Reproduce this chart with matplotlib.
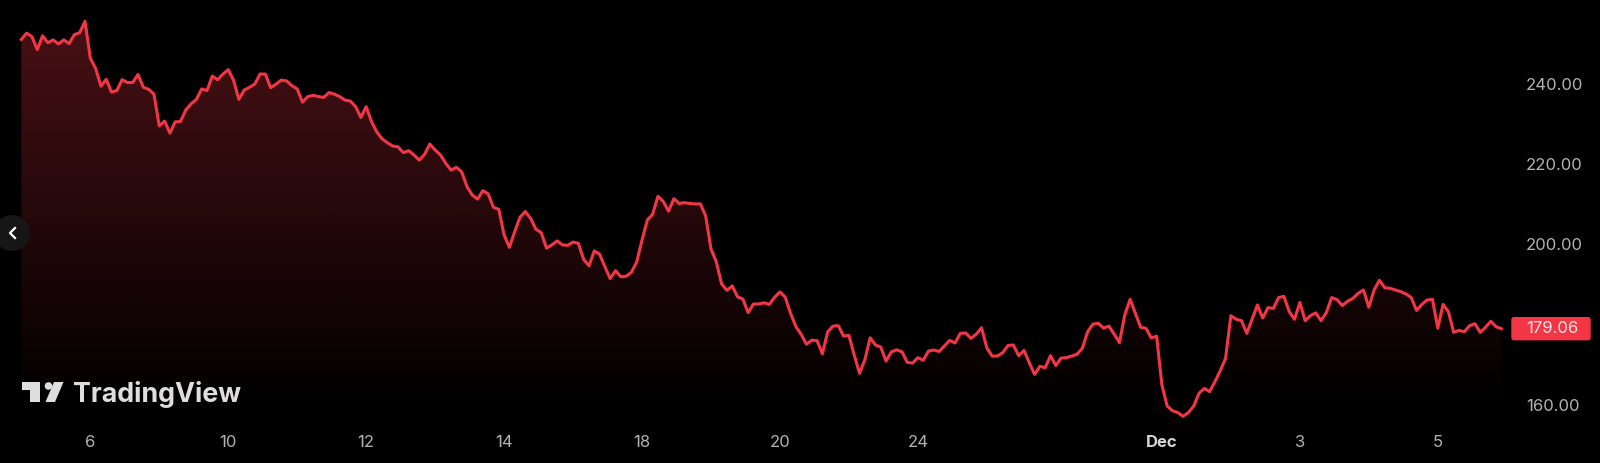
import numpy as np
import matplotlib.pyplot as plt
from matplotlib.patches import Circle, FancyBboxPatch, Polygon
from matplotlib.transforms import IdentityTransform

prices = [
    251.0, 252.6, 251.7, 248.5, 251.9, 250.2, 250.9, 249.9, 250.9, 250.0, 252.2, 252.7,
    255.5, 246.4, 243.8, 239.4, 241.1, 237.9, 238.3, 241.0, 240.3, 240.3, 242.3, 239.1,
    238.6, 237.4, 229.5, 230.7, 227.7, 230.5, 230.6, 233.5, 235.0, 236.1, 238.7, 238.3,
    241.9, 241.0, 242.4, 243.5, 240.9, 236.1, 238.4, 239.1, 239.9, 242.4, 242.4, 239.0,
    239.9, 240.9, 240.7, 239.5, 238.7, 235.4, 236.8, 237.1, 236.8, 236.6, 237.8, 237.4,
    236.8, 235.9, 235.7, 234.3, 231.6, 234.3, 230.6, 228.0, 226.3, 225.3, 224.5, 224.3,
    222.85, 223.35, 222.3, 221.0, 222.4, 225.0, 223.5, 222.3, 220.2, 218.5, 219.2, 218.1,
    214.4, 212.3, 211.3, 213.4, 212.6, 209.25, 208.75, 202.4, 199.3, 203.2, 206.8, 208.2,
    206.5, 203.8, 202.95, 199.1, 199.9, 200.9, 199.9, 199.8, 200.6, 200.3, 196.3, 194.7,
    198.4, 197.6, 194.5, 191.5, 193.5, 192.0, 192.1, 193.1, 195.7, 201.1, 206.1, 207.5,
    212.0, 210.7, 208.3, 211.4, 210.2, 210.4, 210.2, 210.1, 210.1, 207.1, 198.9, 195.7,
    190.2, 188.6, 189.7, 187.0, 186.45, 183.05, 185.2, 185.2, 185.5, 185.1, 186.9, 188.2,
    186.9, 182.9, 179.6,
    177.65, 175.2, 176.2, 176.1, 172.8, 178.3, 179.7, 179.8, 177.2, 177.4, 172.5, 167.95,
    171.3, 176.8, 175.0, 174.5, 171.0, 173.3, 173.8, 173.3, 170.7, 170.5, 171.85, 171.2,
    173.5, 173.75, 173.4, 174.75, 176.15, 175.5, 177.9, 178.0, 176.65, 177.7, 179.3, 174.3,
    172.25, 172.25, 173.1, 174.9, 175.0, 172.35, 173.65, 170.6, 167.7, 169.7, 169.35, 172.35,
    169.9, 171.75, 171.85, 172.25, 172.7, 174.2, 178.3, 180.2, 180.4, 179.2, 179.7, 177.7,
    175.6, 182.5, 186.35, 182.9, 179.4, 179.15, 176.75, 177.2, 165.05, 159.8, 158.65, 158.2,
    157.25, 158.2, 159.8, 163.0,
    164.2, 163.4, 165.9, 168.6, 171.7, 182.3, 181.4, 181.05, 177.9, 181.4, 184.95, 181.7,
    184.3, 184.1, 186.8, 187.1, 183.3, 181.4, 185.6, 181.05, 182.3, 183.0, 181.05, 183.1,
    186.8, 186.3, 184.8, 185.9, 186.6, 187.85, 188.7, 184.4, 188.7, 191.1, 189.25, 189.1,
    188.7, 188.3, 187.7, 186.8, 183.6, 185.1, 186.2, 186.35, 179.2, 185.1, 183.3, 178.15,
    178.65, 178.3, 179.8, 180.3, 178.15, 179.4, 180.9, 179.55, 179.06,
]
tick_bars = [13, 39, 65, 91, 117, 143, 169, 215, 241, 267]
tick_labels = ['6', '10', '12', '14', '18', '20', '24', 'Dec', '3', '5']
price_ticks = [160, 200, 220, 240]
last_price = 179.06

W, H = 1600, 463
RED = '#f23645'
BAR_PX = 5.305
plt.rcParams['font.family'] = ['Inter', 'DejaVu Sans']

bars = np.arange(len(prices))

fig = plt.figure(figsize=(W / 100, H / 100), dpi=100, facecolor='black')
# plot area in pixels: 0..1520 wide, 0..425 from the top
ax = fig.add_axes([0, 1 - 425 / H, 1520 / W, 425 / H], facecolor='black')
xlim = (-21.33 / BAR_PX, (1520 - 21.33) / BAR_PX)
ylim = (240 - (425 - 83.7) / 4.02, 240 + 83.7 / 4.02)

# area under the line, fading out towards the bottom
grad = np.zeros((256, 2, 4))
grad[..., :3] = (242 / 255, 54 / 255, 69 / 255)
grad[..., 3] = np.linspace(0.30, 0, 256)[:, None]
ymin = min(prices) + 1
img = ax.imshow(grad, extent=[bars[0], bars[-1], ymin, max(prices)], aspect='auto',
                origin='upper', zorder=1, interpolation='bilinear')
ax.set_xlim(*xlim)
ax.set_ylim(*ylim)
area = Polygon(list(zip(bars, prices)) + [(bars[-1], ymin), (bars[0], ymin)],
               closed=True, transform=ax.transData, fc='none', ec='none')
ax.add_patch(area)
img.set_clip_path(area)

ax.plot(bars, prices, color=RED, lw=2.2, solid_joinstyle='round', zorder=3)

for s in ax.spines.values():
    s.set_visible(False)
ax.yaxis.tick_right()
ax.set_yticks(price_ticks)
ax.set_yticklabels([f'{p:.2f}' for p in price_ticks])
ax.set_xticks(tick_bars)
ax.set_xticklabels(tick_labels)
ax.tick_params(axis='y', length=0, pad=4.3, labelsize=12, labelcolor='#b2b2b2')
ax.tick_params(axis='x', length=0, pad=7.5, labelsize=12, labelcolor='#b2b2b2')
dec = ax.get_xticklabels()[tick_labels.index('Dec')]
dec.set_fontweight('bold')
dec.set_color('#d6d6d6')


def flip(pts):
    return [(x, H - y) for x, y in pts]


px = IdentityTransform()

# last price tag
tag_y = H - (83.7 + (240 - last_price) * 4.02)
fig.add_artist(FancyBboxPatch((1512, tag_y - 11), 78, 22, boxstyle='round,pad=0,rounding_size=2',
                              fc=RED, ec=RED, lw=1, transform=px))
fig.text(1526 / W, tag_y / H, f'{last_price:.2f}', color='#ffe9ea', fontsize=12,
         ha='left', va='center')

# scroll button
fig.add_artist(Circle((12, H - 233), 18, fc='#161616', ec='none', transform=px))
fig.add_artist(plt.Line2D([15, 10, 15], [H - 228, H - 233, H - 238], color='white', lw=1.6,
                          transform=px))

# logo
LOGO = '#dedede'
fig.add_artist(Polygon(flip([(22, 382), (40, 382), (40, 402), (30, 402), (30, 390), (22, 390)]),
                       fc=LOGO, ec='none', transform=px))
fig.add_artist(Circle((48.5, H - 386), 3.8, fc=LOGO, ec='none', transform=px))
fig.add_artist(Polygon(flip([(54, 382), (63.5, 382), (55, 402), (45.5, 402)]),
                       fc=LOGO, ec='none', transform=px))
fig.text(73 / W, 1 - 402.5 / H, 'TradingView', color=LOGO, fontsize=19.3, fontweight='bold',
         ha='left', va='baseline')

fig.savefig('out.png', dpi=100, facecolor='black')
